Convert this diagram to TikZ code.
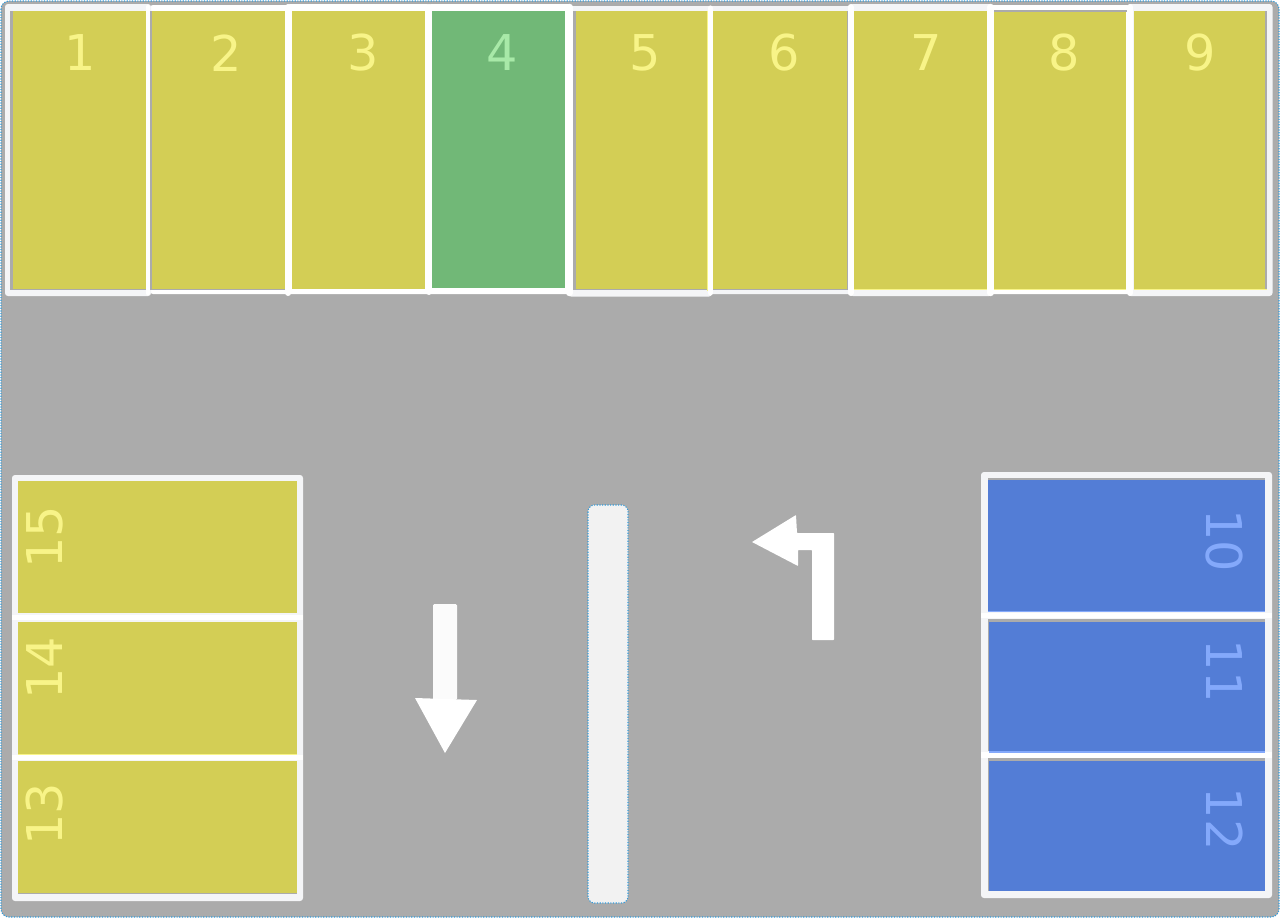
\documentclass[tikz,border=0pt]{standalone}
\usepackage{fontspec}
\setmainfont{DejaVu Sans}
\definecolor{roadgray}{HTML}{ABABAB}
\definecolor{frameclr}{HTML}{F4F5F7}
\definecolor{dotblue}{HTML}{2F9BDC}
\definecolor{yellowfill}{HTML}{D3CE55}
\definecolor{yellowtxt}{HTML}{F8F488}
\definecolor{greenfill}{HTML}{71B877}
\definecolor{greentxt}{HTML}{A8E9A8}
\definecolor{bluefill}{HTML}{537DD6}
\definecolor{bluetxt}{HTML}{84A9FB}
\definecolor{barfill}{HTML}{F2F2F2}
\tikzset{
  x=0.75pt,y=-0.75pt,
  dotted edge/.style={draw=dotblue,line width=0.8pt,dash pattern=on 0.9pt off 1.1pt},
  road/.style={fill=roadgray,dotted edge,rounded corners=6pt},
  groupframe/.style={fill=frameclr,draw=none,rounded corners=2.2pt},
  whiteframe/.style={fill=white,draw=none,rounded corners=2.2pt},
  divider/.style={draw=white,line cap=round},
  numlabel/.style={font=\fontsize{37}{37}\selectfont,inner sep=0pt},
  bigarrow/.style={fill=white,draw=none,rounded corners=0.4pt},
  edgeline/.style={line width=1pt},
}
\newcommand{\cellbox}[6]{% name, x0,y0,x1,y1, fill
  \path[fill=#6] (#2,#3) rectangle (#4,#5);
  \coordinate (#1) at ({(#2+#4)/2},{(#3+#5)/2});
}
\begin{document}
\begin{tikzpicture}
\useasboundingbox (0,0) rectangle (1280,918);
\fill[white] (0,0) rectangle (1280,918);
\path[road] (1,1) rectangle (1279,917);
% top frames
\path[whiteframe] (150,5) rectangle (290,294);
\path[whiteframe] (287,4) rectangle (430,294);
\path[whiteframe] (428,4) rectangle (571,294);
\path[groupframe] (709,6) rectangle (852,294);
\path[whiteframe] (990,5) rectangle (1130,294);
\path[groupframe] (5,4) rectangle (151,296);
\path[groupframe] (568,6) rectangle (712,296.5);
\path[groupframe] (850,4) rectangle (992,296);
\path[groupframe] (1128,4) rectangle (1272.5,296);
% top row: grey under-edges
\path[fill=roadgray] (10.3,11) rectangle (146,290);
\path[fill=roadgray] (150,11) rectangle (285,290);
\path[fill=roadgray] (573,11) rectangle (707,290.3);
\path[fill=roadgray] (713,11) rectangle (847.5,290);
\path[fill=roadgray] (994,10) rectangle (1127,12);
\path[fill=roadgray] (1265,11) rectangle (1267,289);
% top row: cells
\cellbox{c1}{12.5}{11}{145.5}{289}{yellowfill}
\cellbox{c2}{152.3}{11}{285}{289}{yellowfill}
\cellbox{c3}{291.7}{11}{425}{289}{yellowfill}
\cellbox{c4}{432.3}{11}{565.3}{288}{greenfill}
\cellbox{c5}{575.7}{11}{707}{289.3}{yellowfill}
\cellbox{c6}{713}{11}{846.5}{289}{yellowfill}
\cellbox{c7}{854}{11}{986.7}{289}{yellowfill}
\cellbox{c8}{994}{12}{1126}{289}{yellowfill}
\cellbox{c9}{1134}{11}{1265}{288.5}{yellowfill}
\draw[yellowtxt,edgeline] (707.5,11) -- (707.5,291);
\draw[yellowtxt,edgeline] (854,289.5) -- (987,289.5);
\draw[yellowtxt,edgeline] (994,289.5) -- (1126,289.5);
\draw[yellowtxt,edgeline] (1134,289.5) -- (1267,289.5);
\draw[divider,line width=3.6pt] (148,7) -- (148,293);
\draw[divider,line width=4.5pt] (288.3,7) -- (288.3,293);
\draw[divider,line width=4.5pt] (428.5,7) -- (428.5,292);
\draw[divider,line width=4.8pt] (569.5,7) -- (569.5,293);
\draw[divider,line width=3.8pt] (710.2,8) -- (710.2,293);
\draw[divider,line width=4.5pt] (850.5,7) -- (850.5,293);
\draw[divider,line width=4.8pt] (990.5,7) -- (990.5,293);
\draw[divider,line width=4.5pt] (1130,7) -- (1130,293);
\node[numlabel,text=yellowtxt] (t1) at (80.5,53) {1};
\node[numlabel,text=yellowtxt] (t2) at (226.5,53) {2};
\node[numlabel,text=yellowtxt] (t3) at (363,53) {3};
\node[numlabel,text=greentxt] (t4) at (502,53) {4};
\node[numlabel,text=yellowtxt] (t5) at (645.5,53) {5};
\node[numlabel,text=yellowtxt] (t6) at (784.5,53) {6};
\node[numlabel,text=yellowtxt] (t7) at (926,53) {7};
\node[numlabel,text=yellowtxt] (t8) at (1064.5,53) {8};
\node[numlabel,text=yellowtxt] (t9) at (1200.5,53) {9};
% left group
\path[groupframe] (12,475) rectangle (303,901);
\cellbox{c15}{18}{481}{297}{613}{yellowfill}
\cellbox{c14}{18}{622}{297}{754}{yellowfill}
\cellbox{c13}{18}{761}{297}{893}{yellowfill}
\draw[divider,line width=4pt,line cap=butt] (12,617.5) -- (303,617.5);
\draw[divider,line width=4pt,line cap=butt] (12,757.5) -- (303,757.5);
\draw[yellowtxt,edgeline] (18,754.5) -- (297,754.5);
\draw[roadgray,edgeline] (18,893.5) -- (297,893.5);
\node[numlabel,text=yellowtxt,rotate=90] (t15) at (45,537.5) {15};
\node[numlabel,text=yellowtxt,rotate=90] (t14) at (45,668) {14};
\node[numlabel,text=yellowtxt,rotate=90] (t13) at (45,814.5) {13};
% right group
\path[groupframe] (981,472) rectangle (1272,898);
\draw[divider,line width=4pt,line cap=butt] (981,615.5) -- (1272,615.5);
\draw[divider,line width=4pt,line cap=butt] (981,755) -- (1272,755);
\path[fill=roadgray] (988,478) rectangle (1265,480);
\path[fill=roadgray] (988,619) rectangle (1265,622);
\path[fill=roadgray] (988,758) rectangle (1265,761);
\path[fill=roadgray] (987.5,622) rectangle (989,751);
\path[fill=roadgray] (987.5,761) rectangle (989,891);
\cellbox{c10}{988}{480}{1265}{611}{bluefill}
\cellbox{c11}{989}{622}{1265}{751}{bluefill}
\cellbox{c12}{989}{761}{1265}{891}{bluefill}
\draw[bluetxt,edgeline] (988,611.5) -- (1265,611.5);
\draw[bluetxt,edgeline] (989,752) -- (1265,752);
\node[numlabel,text=bluetxt,rotate=-90] (t10) at (1224.5,541) {10};
\node[numlabel,text=bluetxt,rotate=-90] (t11) at (1224.5,671) {11};
\node[numlabel,text=bluetxt,rotate=-90] (t12) at (1224.5,819) {12};
% bar
\path[fill=barfill,dotted edge,rounded corners=5pt] (588,505) rectangle (628,903);
% arrows
\path[fill=white!97!gray,rounded corners=1pt] (433,700) -- (433,604) -- (457,604) -- (457,700) -- cycle;
\path[fill=white] (415,698) -- (477,700) -- (445,753) -- cycle;
\path[bigarrow] (834,533) -- (834,640) -- (812,640) -- (812,550) -- (798,550) -- (798,566) -- (752,542) -- (796,515) -- (797,533) -- cycle;
\end{tikzpicture}
\end{document}
